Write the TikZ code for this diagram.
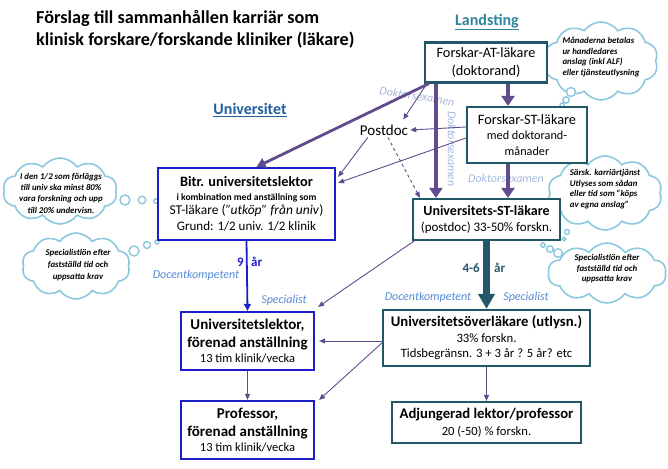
\documentclass[tikz,border=0pt]{standalone}
\usepackage{fontspec}
\setmainfont{Carlito}
\usepackage{tikz}
\usetikzlibrary{arrows.meta, positioning, shapes.symbols}

\definecolor{tealbox}{RGB}{33,87,102}
\definecolor{purp}{RGB}{96,76,140}
\definecolor{univblue}{RGB}{30,30,200}
\definecolor{paleblue}{RGB}{84,138,212}
\definecolor{examgrey}{RGB}{165,185,222}
\definecolor{cloudline}{RGB}{140,200,222}
\definecolor{landteal}{RGB}{49,132,155}
\definecolor{uniheading}{RGB}{31,95,160}

\newcommand{\fs}[2]{\fontsize{#1}{#2}\selectfont}

\begin{document}
\begin{tikzpicture}[x=1pt, y=-1pt,
  box/.style={rectangle, draw, line width=2.2pt, inner sep=0pt, align=center, fill=white},
  ltbox/.style={box, draw=tealbox},
  ubox/.style={box, draw=univblue},
  heading/.style={font=\fs{16}{19}\bfseries},
  note/.style={font=\fs{12}{14}\itshape, text=paleblue, inner sep=0pt},
  examlabel/.style={font=\fs{12}{14}\itshape, text=examgrey, inner sep=0pt},
  yearlabel/.style={font=\fs{13}{14}\bfseries, inner sep=0pt},
  thought/.style={cloud, cloud puffs=10, cloud puff arc=110, cloud ignores aspect,
             draw=cloudline, line width=1.6pt, inner sep=0pt, fill=white},
  thoughttext/.style={font=\fs{8.8}{10.5}\bfseries\itshape, inner sep=0pt},
  bubble/.style={draw=cloudline, line width=1.4pt, fill=white},
  arrow/.style={-{Triangle[length=6pt, width=5pt]}, line width=0.9pt, color=purp},
  bigarrow/.style={-{Triangle[length=10pt, width=13pt]}, line width=4.5pt, color=purp},
  midarrow/.style={-{Triangle[length=9pt, width=10pt]}, line width=2.8pt, color=purp},
  tealarrow/.style={-{Triangle[length=15pt, width=16pt]}, line width=7pt, color=tealbox},
  bluearrow/.style={-{Triangle[length=7pt, width=7pt]}, line width=1.8pt, color=univblue}
]
\useasboundingbox (0,0) rectangle (668,468);

\node[font=\fs{18.2}{22}\bfseries, anchor=west, align=left, inner sep=0pt] (title) at (36,29)
  {Förslag till sammanhållen karriär som\\klinisk forskare/forskande kliniker (läkare)};
\node[heading, text=landteal] (landsting) at (487,22) {\underline{Landsting}};
\node[heading, text=uniheading] (universitet) at (250,110) {\underline{Universitet}};

% clouds
\node[thought, minimum width=114pt, minimum height=78pt] (cloudtr) at (601,61) {};
\draw[bubble] (571,92) circle (4.5) (566,100) circle (3.2) (562,105) circle (2);
\node[thoughttext, align=left] (cloudtrtext) at (601,57)
  {Månaderna betalas\\ur handledares\\anslag (inkl ALF)\\eller tjänsteutlysning};

\node[thought, minimum width=114pt, minimum height=74pt] (cloudsr) at (605,193) {};
\draw[bubble] (567,232) circle (2.5) (564,239) circle (1.8);
\node[thoughttext, align=left] (cloudsrtext) at (605,189)
  {Särsk. karriärtjänst\\Utlyses som sådan\\eller tid som ”köps\\av egna anslag”};

\node[thought, minimum width=118pt, minimum height=60pt] (cloudsp) at (607,273) {};
\draw[bubble] (543,245) circle (2.2) (550,249) circle (3.3) (558,253) circle (4.3);
\node[thoughttext, align=center] (cloudsptext) at (607,269)
  {Specialistlön efter\\fastställd tid och\\uppsatta krav};

\node[thought, minimum width=114pt, minimum height=66pt] (cloudl1) at (60,191) {};
\draw[bubble] (125,200) circle (5) (142,200) circle (3.8) (156,201) circle (2.3);
\node[thoughttext, font=\fs{8.8}{11.3}\bfseries\itshape, align=center] (cloudl1text) at (61,193)
  {I den 1/2 som förläggs\\till univ ska minst 80\%\\vara forskning och upp\\till 20\% undervisn.};

\node[thought, minimum width=108pt, minimum height=66pt] (cloudl2) at (76,266) {};
\draw[bubble] (134,251) circle (5) (147,245) circle (3.5) (157,242) circle (2);
\node[thoughttext, font=\fs{8.8}{12}\bfseries\itshape, align=center] (cloudl2text) at (78,265)
  {Specialistlön efter\\fastställd tid och\\uppsatta krav};

% boxes
\node[ltbox, minimum width=122pt, minimum height=40pt, font=\fs{14.3}{17.5}] (atdoc) at (486,62.5)
  {Forskar-AT-läkare\\(doktorand)};
\node[ltbox, minimum width=120pt, minimum height=56pt, font=\fs{12.2}{15.5}] (forskst) at (527,135)
  {{\fs{14.3}{15.5}Forskar-ST-läkare}\\med doktorand-\\månader};
\node[ltbox, minimum width=147pt, minimum height=41pt, font=\fs{13}{16.5}] (univst) at (486.5,219.5)
  {{\fs{14}{16.5}\bfseries Universitets-ST-läkare}\\(postdoc) 33-50\% forskn.};
\node[ubox, minimum width=177pt, minimum height=72pt, font=\fs{13.5}{15.5}] (bitr) at (246.5,204)
  {{\fs{14.3}{15.5}\bfseries Bitr. universitetslektor}\\[-2pt]
   {\fs{9.6}{12}\bfseries i kombination med anställning som}\\[-1pt]
   {ST-läkare (\textit{”utköp” från univ})}\\
   {\fs{13}{15}Grund: 1/2 univ. 1/2 klinik}};
\node[ubox, minimum width=133pt, minimum height=58pt, font=\fs{15}{18}] (ulektor) at (247.5,341)
  {{\bfseries Universitetslektor,}\\{\bfseries förenad anställning}\\[-3pt]{\fs{12.5}{14}13 tim klinik/vecka}};
\node[ubox, minimum width=133pt, minimum height=58pt, font=\fs{15}{18}] (prof) at (247.5,430)
  {{\bfseries Professor,}\\{\bfseries förenad anställning}\\[-3pt]{\fs{12.5}{14}13 tim klinik/vecka}};
\node[ltbox, minimum width=207pt, minimum height=56pt, font=\fs{12.7}{16}] (uol) at (486.5,338)
  {{\fs{14.7}{16}\bfseries Universitetsöverläkare (utlysn.)}\\33\% forskn.\\[-1pt]Tidsbegränsn. 3 + 3 år ? 5 år? etc};
\node[ltbox, minimum width=189pt, minimum height=41pt, font=\fs{12.6}{17}] (adj) at (486.5,422.5)
  {{\fs{14.7}{17}\bfseries Adjungerad lektor/professor}\\20 (-50) \% forskn.};

\node[font=\fs{15}{17}, inner sep=2pt] (postdoc) at (384,130) {Postdoc};

% labels
\node[examlabel, rotate=-9] (examtop) at (417,96) {Doktorsexamen};
\node[examlabel, rotate=-90] (examside) at (452,149) {Doktorsexamen};
\node[examlabel] (exammid) at (506,178) {Doktorsexamen};
\node[yearlabel, text=univblue, anchor=east] (nine) at (244,262) {9};
\node[yearlabel, text=univblue, anchor=west] (nineyr) at (251,262) {år};
\node[yearlabel, text=tealbox, anchor=east] (fourtosix) at (480,268) {4-6};
\node[yearlabel, text=tealbox, anchor=west] (fourtosixyr) at (494,268) {år};
\node[note] (docleft) at (196,275) {Docentkompetent};
\node[note] (specleft) at (284,300) {Specialist};
\node[note] (docright) at (428,297) {Docentkompetent};
\node[note] (specright) at (526,297) {Specialist};

% connectors
\draw[bigarrow] ([xshift=12pt]atdoc.south west) -- ([xshift=12pt]atdoc.south west |- univst.north);
\draw[bigarrow] ([xshift=22pt]atdoc.south) -- ([xshift=22pt]atdoc.south |- forskst.north);
\draw[bigarrow] ([xshift=-19pt]forskst.south) -- ([xshift=-19pt]forskst.south |- univst.north);
\draw[midarrow] ([xshift=5pt]atdoc.south west) -- ([xshift=10pt]bitr.north);
\draw[arrow] ([xshift=3pt]atdoc.south west) -- ([xshift=-7pt,yshift=3pt]postdoc.north east);
\draw[arrow] ([yshift=8pt]forskst.west) -- (postdoc.east);
\draw[arrow] ([yshift=-3pt]forskst.west) -- ([xshift=2pt,yshift=-16pt]bitr.north east);
\draw[arrow] ([xshift=10pt]postdoc.south west) -- ([xshift=2pt,yshift=-10pt]bitr.north east);
\draw[arrow, dashed] ([xshift=4pt]postdoc.south) -- ([xshift=8pt]univst.north west);
\draw[tealarrow] (univst.south) -- (uol.north);
\draw[bluearrow] (bitr.south) -- (ulektor.north);
\draw[arrow] ([xshift=2pt]univst.south west) -- ([xshift=3pt,yshift=4pt]ulektor.north east);
\draw[arrow] ([yshift=-3pt]uol.west) -- ([xshift=4pt]ulektor.east);
\draw[arrow] ([yshift=-5pt]uol.west) -- ([xshift=4pt]prof.north east);
\draw[arrow] (ulektor.south) -- (prof.north);
\draw[arrow] (uol.south) -- (adj.north);

\end{tikzpicture}
\end{document}
